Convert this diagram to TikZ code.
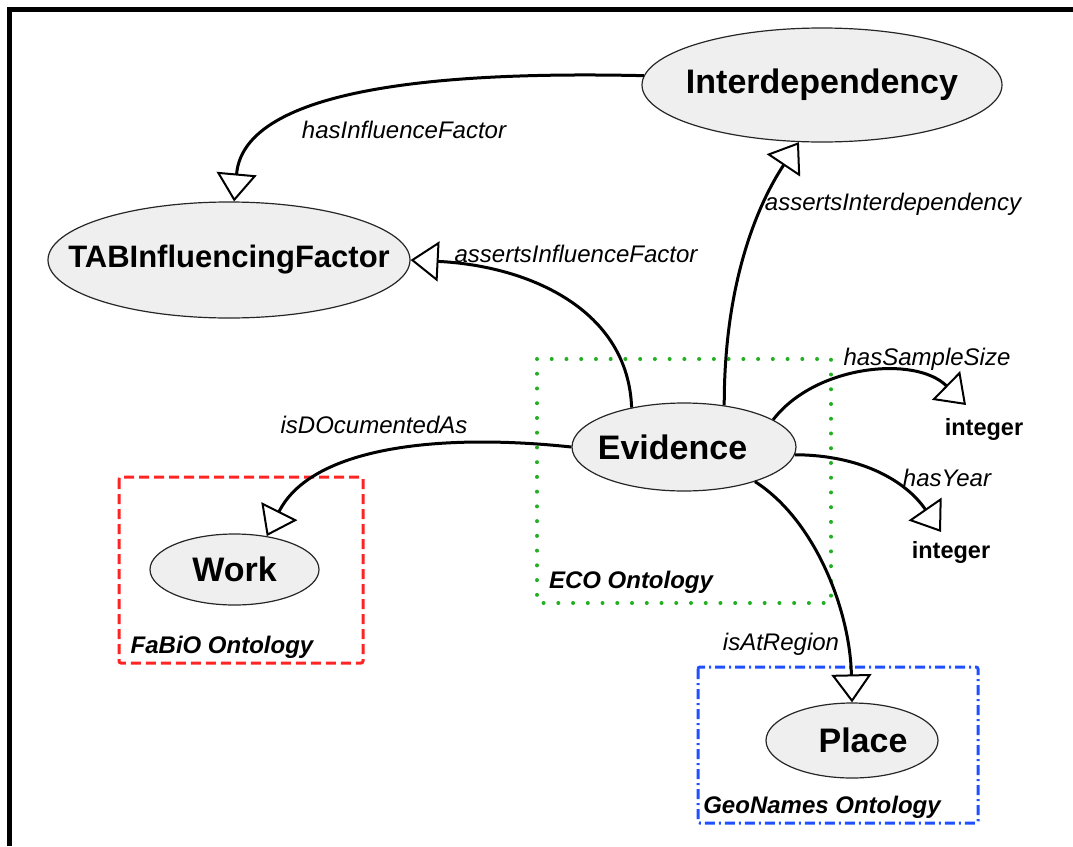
\documentclass[tikz,border=0pt]{standalone}
\usepackage{fontspec}
\setmainfont{Liberation Sans}
\usetikzlibrary{arrows.meta,shapes.geometric}
\definecolor{ellfill}{HTML}{EFEFEF}
\definecolor{ecogreen}{HTML}{22B022}
\definecolor{fabred}{HTML}{FF2424}
\definecolor{geoblue}{HTML}{1F4FFF}
\begin{document}
\begin{tikzpicture}[x=1pt,y=-1pt,
  ell/.style={ellipse, draw=black!85, line width=1.2pt, fill=ellfill, inner sep=0pt,
    font=\fontsize{34}{40}\selectfont\bfseries},
  conn/.style={line width=3pt, -{Triangle[fill=white, length=28pt, width=40pt, line width=2pt]}},
  elabel/.style={font=\fontsize{24}{28}\selectfont\itshape, anchor=base, inner sep=0pt},
  olabel/.style={font=\fontsize{24}{28}\selectfont\bfseries\itshape, anchor=base, inner sep=0pt},
  dtype/.style={font=\fontsize{23.5}{28}\selectfont\bfseries, anchor=base, inner sep=0pt},
  ecobox/.style={draw=ecogreen, line width=4pt, line cap=round, dash pattern=on 0pt off 14.74pt},
  fabbox/.style={draw=fabred, line width=3pt, dash pattern=on 10pt off 5pt, rounded corners=2pt},
  geobox/.style={draw=geoblue, line width=3pt, dash pattern=on 10pt off 4pt on 2pt off 4pt, rounded corners=2pt},
]
\useasboundingbox (0,0) rectangle (1073,846);
% frame
\draw[line width=4.4pt, line join=miter] (9.5,846) -- (9.5,9.5) -- (1073,9.5);

% ontology boxes
\draw[ecobox] (537,359) rectangle (831,603);
\draw[fabbox] (119,477) rectangle (363,663);
\draw[geobox] (698,667) rectangle (978,823);

% classes
\node[ell, minimum width=360pt, minimum height=114pt] (int) at (822,85) {\makebox[0pt]{Interdependency}};
\node[ell, minimum width=362pt, minimum height=116pt, font=\fontsize{31}{36}\selectfont\bfseries] (tab) at (229,260) {\makebox[0pt]{TABInfluencingFactor}};
\node[ell, minimum width=224pt, minimum height=88pt] (ev) at (684,447) {\makebox[0pt]{\kern-23pt Evidence}};
\node[ell, minimum width=169pt, minimum height=71pt] (work) at (234.5,569.5) {\makebox[0pt]{Work}};
\node[ell, minimum width=172pt, minimum height=75pt] (place) at (852,740.5) {\makebox[0pt]{\kern22pt Place}};

% datatypes
\node[dtype] (i1) at (984,435) {integer};
\node[dtype] (i2) at (951,558) {integer};

% connectors
\draw[conn] (int.177) .. controls (480,72) and (245,80) .. (tab.85);
\draw[conn] (ev.143) .. controls (628,310) and (530,266) .. (tab.east);
\draw[conn] (ev.46) .. controls (724,270) and (765,193) .. (int.248);
\draw[conn] (ev.17) .. controls (815,365) and (915,355) .. ([shift={(-18,-30)}]i1.base);
\draw[conn] (ev.-4) .. controls (860,455) and (905,480) .. ([shift={(-10,-26)}]i2.base);
\draw[conn] (ev.west) .. controls (430,432) and (310,450) .. (work.46);
\draw[conn] (ev.-26) .. controls (815,520) and (850,610) .. (place.north);

% property labels
\node[elabel] (l1) at (404,138) {hasInfluenceFactor};
\node[elabel] (l2) at (576,262) {assertsInfluenceFactor};
\node[elabel] (l3) at (893,210) {assertsInterdependency};
\node[elabel] (l4) at (927,365) {hasSampleSize};
\node[elabel] (l5) at (947,486) {hasYear};
\node[elabel] (l6) at (374,433) {isDOcumentedAs};
\node[elabel] (l7) at (781,650) {isAtRegion};

% ontology labels
\node[olabel] (o1) at (631,588) {ECO Ontology};
\node[olabel] (o2) at (222,653) {FaBiO Ontology};
\node[olabel] (o3) at (822,813) {GeoNames Ontology};
\end{tikzpicture}
\end{document}
